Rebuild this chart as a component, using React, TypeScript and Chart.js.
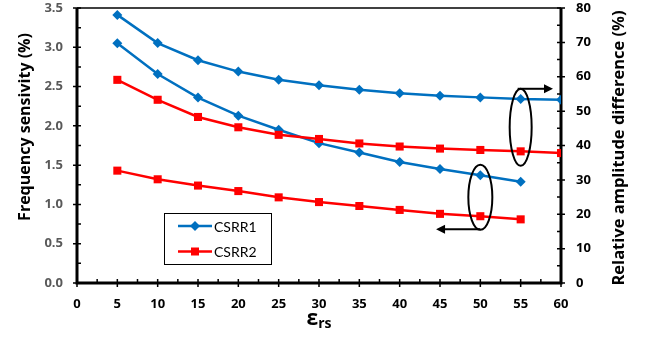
import { useEffect, useRef } from "react";
import { Chart, registerables } from "chart.js";

Chart.register(...registerables);

// ---- data ----
const epsRs = [5, 10, 15, 20, 25, 30, 35, 40, 45, 50, 55, 60];
const csrr1Sensitivity = [3.05, 2.66, 2.36, 2.13, 1.95, 1.78, 1.66, 1.54, 1.45, 1.37, 1.29];
const csrr2Sensitivity = [1.43, 1.32, 1.24, 1.17, 1.09, 1.03, 0.98, 0.93, 0.88, 0.85, 0.81];
const csrr1Amplitude = [78.0, 69.8, 64.8, 61.5, 59.1, 57.5, 56.2, 55.2, 54.5, 54.0, 53.5, 53.3];
const csrr2Amplitude = [59.1, 53.3, 48.3, 45.3, 43.1, 41.9, 40.6, 39.7, 39.1, 38.7, 38.3, 37.8];
const seriesNames = ["CSRR1", "CSRR2"];
const leftTitle = "Frequency sensivity (%)";
const rightTitle = "Relative amplitude difference (%)";
const xTitleMain = "ε";
const xTitleSub = "rs";

const BLUE = "#0070C0";
const RED = "#FF0000";
const TICK_FONT = { family: "'Open Sans'", size: 13, weight: "bold" as const };

const pts = (ys: number[]) => ys.map((y, i) => ({ x: epsRs[i], y }));

function drawMarker(ctx: CanvasRenderingContext2D, style: string, x: number, y: number, color: string) {
  ctx.save();
  ctx.fillStyle = color;
  ctx.beginPath();
  if (style === "rectRot") {
    const r = 5;
    ctx.moveTo(x - r, y);
    ctx.lineTo(x, y - r);
    ctx.lineTo(x + r, y);
    ctx.lineTo(x, y + r);
    ctx.closePath();
  } else {
    const s = 4;
    ctx.rect(x - s, y - s, 2 * s, 2 * s);
  }
  ctx.fill();
  ctx.restore();
}

function arrowHead(ctx: CanvasRenderingContext2D, tipX: number, y: number, dir: number) {
  ctx.beginPath();
  ctx.moveTo(tipX, y);
  ctx.lineTo(tipX - dir * 9, y - 4.5);
  ctx.lineTo(tipX - dir * 9, y + 4.5);
  ctx.closePath();
  ctx.fill();
}

const decorPlugin = {
  id: "decor",
  beforeDatasetsDraw(chart: any) {
    const { ctx, chartArea: a, scales } = chart;
    const x = scales.x, yl = scales.yLeft, yr = scales.yRight;
    ctx.save();
    ctx.strokeStyle = "#000";
    // ticks
    ctx.lineWidth = 1.5;
    ctx.beginPath();
    for (let v = 0; v <= 60; v += 2.5) {
      const px = x.getPixelForValue(v);
      const major = v % 5 === 0;
      ctx.moveTo(px, a.bottom - 4);
      ctx.lineTo(px, a.bottom + (major ? 4 : 0));
    }
    for (let v = 0; v <= 3.5001; v += 0.25) {
      const py = yl.getPixelForValue(v);
      const major = Math.abs((v * 2) - Math.round(v * 2)) < 1e-6;
      ctx.moveTo(a.left - (major ? 4 : 0), py);
      ctx.lineTo(a.left + 4, py);
    }
    for (let v = 0; v <= 80; v += 5) {
      const py = yr.getPixelForValue(v);
      const major = v % 10 === 0;
      ctx.moveTo(a.right - 4, py);
      ctx.lineTo(a.right + (major ? 4 : 0), py);
    }
    ctx.stroke();
    // frame
    ctx.lineWidth = 1.5;
    ctx.beginPath();
    ctx.moveTo(a.left, a.top);
    ctx.lineTo(a.right, a.top);
    ctx.stroke();
    ctx.lineWidth = 3;
    ctx.beginPath();
    ctx.moveTo(a.left, a.top);
    ctx.lineTo(a.left, a.bottom);
    ctx.lineTo(a.right, a.bottom);
    ctx.lineTo(a.right, a.top);
    ctx.stroke();
    ctx.restore();
  },
  afterDraw(chart: any) {
    const { ctx, chartArea: a, scales } = chart;
    const x = scales.x, yl = scales.yLeft, yr = scales.yRight;
    ctx.save();
    // titles
    ctx.fillStyle = "#000";
    ctx.textAlign = "center";
    ctx.textBaseline = "middle";
    ctx.font = "bold 16px 'Open Sans'";
    ctx.save();
    ctx.translate(25, 127);
    ctx.rotate(-Math.PI / 2);
    ctx.fillText(leftTitle, 0, 0);
    ctx.restore();
    ctx.font = "bold 16.5px 'Open Sans'";
    ctx.save();
    ctx.translate(619, 148);
    ctx.rotate(-Math.PI / 2);
    ctx.fillText(rightTitle, 0, 0);
    ctx.restore();
    // x title
    ctx.textAlign = "left";
    ctx.textBaseline = "alphabetic";
    ctx.font = "bold 21px 'Open Sans'";
    const mainW = ctx.measureText(xTitleMain).width;
    ctx.font = "bold 14px 'Open Sans'";
    const subW = ctx.measureText(xTitleSub).width;
    const cx = (a.left + a.right) / 2;
    const sx = cx - (mainW + subW) / 2;
    ctx.font = "bold 21px 'Open Sans'";
    ctx.fillText(xTitleMain, sx, 325);
    ctx.font = "bold 14px 'Open Sans'";
    ctx.fillText(xTitleSub, sx + mainW, 328);

    // legend
    const lx = 164, ly = 213, lw = 107, lh = 51;
    ctx.fillStyle = "#fff";
    ctx.fillRect(lx, ly, lw, lh);
    ctx.strokeStyle = "#000";
    ctx.lineWidth = 1;
    ctx.strokeRect(lx + 0.5, ly + 0.5, lw, lh);
    const items = [
      { name: seriesNames[0], color: BLUE, style: "rectRot", y: 226 },
      { name: seriesNames[1], color: RED, style: "rect", y: 251.5 },
    ];
    ctx.font = "14px Lato";
    ctx.textBaseline = "middle";
    for (const it of items) {
      ctx.strokeStyle = it.color;
      ctx.lineWidth = 2.5;
      ctx.beginPath();
      ctx.moveTo(178, it.y);
      ctx.lineTo(212, it.y);
      ctx.stroke();
      drawMarker(ctx, it.style, 195, it.y, it.color);
      ctx.fillStyle = "#000";
      ctx.fillText(it.name, 214, it.y + 1);
    }

    // ellipses and arrows
    ctx.strokeStyle = "#000";
    ctx.fillStyle = "#000";
    ctx.lineWidth = 2;
    const e1x = x.getPixelForValue(55), e1y = yr.getPixelForValue(45.3);
    ctx.beginPath();
    ctx.ellipse(e1x, e1y, 11, 38.5, 0, 0, Math.PI * 2);
    ctx.stroke();
    const a1y = e1y - 38.5;
    ctx.beginPath();
    ctx.moveTo(e1x - 3, a1y);
    ctx.lineTo(a.right - 14, a1y);
    ctx.stroke();
    arrowHead(ctx, a.right - 8, a1y, 1);

    const e2x = x.getPixelForValue(50), e2y = yl.getPixelForValue(1.09);
    ctx.beginPath();
    ctx.ellipse(e2x, e2y, 12, 32.5, 0, 0, Math.PI * 2);
    ctx.stroke();
    const a2y = e2y + 32;
    ctx.beginPath();
    ctx.moveTo(e2x, a2y);
    ctx.lineTo(x.getPixelForValue(45.5), a2y);
    ctx.stroke();
    arrowHead(ctx, x.getPixelForValue(45.5) - 8, a2y, -1);
    ctx.restore();
  },
};

export default function App() {
  const ref = useRef<HTMLCanvasElement | null>(null);
  useEffect(() => {
    if (!ref.current) return;
    const common = { borderWidth: 2.5, pointBorderWidth: 0, fill: false, tension: 0 };
    const chart = new Chart(ref.current, {
      type: "line",
      data: {
        datasets: [
          { ...common, label: seriesNames[0], data: pts(csrr1Amplitude), yAxisID: "yRight", borderColor: BLUE, backgroundColor: BLUE, pointStyle: "rectRot", pointRadius: 5 },
          { ...common, label: seriesNames[1], data: pts(csrr2Amplitude), yAxisID: "yRight", borderColor: RED, backgroundColor: RED, pointStyle: "rect", pointRadius: 5.7 },
          { ...common, label: seriesNames[0], data: pts(csrr1Sensitivity), yAxisID: "yLeft", borderColor: BLUE, backgroundColor: BLUE, pointStyle: "rectRot", pointRadius: 5 },
          { ...common, label: seriesNames[1], data: pts(csrr2Sensitivity), yAxisID: "yLeft", borderColor: RED, backgroundColor: RED, pointStyle: "rect", pointRadius: 5.7 },
        ],
      },
      options: {
        animation: false,
        responsive: false,
        devicePixelRatio: 1,
        layout: { padding: { top: 8, left: 0, right: 0, bottom: 0 } },
        plugins: { legend: { display: false }, tooltip: { enabled: false } },
        elements: { point: { hoverRadius: 5 } },
        scales: {
          x: {
            type: "linear",
            min: 0,
            max: 60,
            grid: { display: false, drawTicks: false },
            border: { display: false },
            ticks: { stepSize: 5, color: "#000", font: TICK_FONT, padding: 13, maxRotation: 0 },
            afterFit: (s: any) => { s.height = 62; s.paddingLeft = 0; s.paddingRight = 0; },
          },
          yLeft: {
            type: "linear",
            position: "left",
            min: 0,
            max: 3.5,
            grid: { display: false, drawTicks: false },
            border: { display: false },
            ticks: { stepSize: 0.5, color: "#595959", font: TICK_FONT, padding: 14, callback: (v: any) => Number(v).toFixed(1) },
            afterFit: (s: any) => { s.width = 77; s.paddingTop = 0; s.paddingBottom = 0; },
          },
          yRight: {
            type: "linear",
            position: "right",
            min: 0,
            max: 80,
            grid: { display: false, drawTicks: false },
            border: { display: false },
            ticks: { stepSize: 10, color: "#000", font: TICK_FONT, padding: 15 },
            afterFit: (s: any) => { s.width = 90; s.paddingTop = 0; s.paddingBottom = 0; },
          },
        },
      } as any,
      plugins: [decorPlugin],
    });
    return () => chart.destroy();
  }, []);
  return (
    <div style={{ position: "fixed", left: 0, top: 0, width: 651, height: 345, background: "#fff" }}>
      <canvas ref={ref} width={651} height={345} style={{ width: 651, height: 345, display: "block" }} />
    </div>
  );
}
